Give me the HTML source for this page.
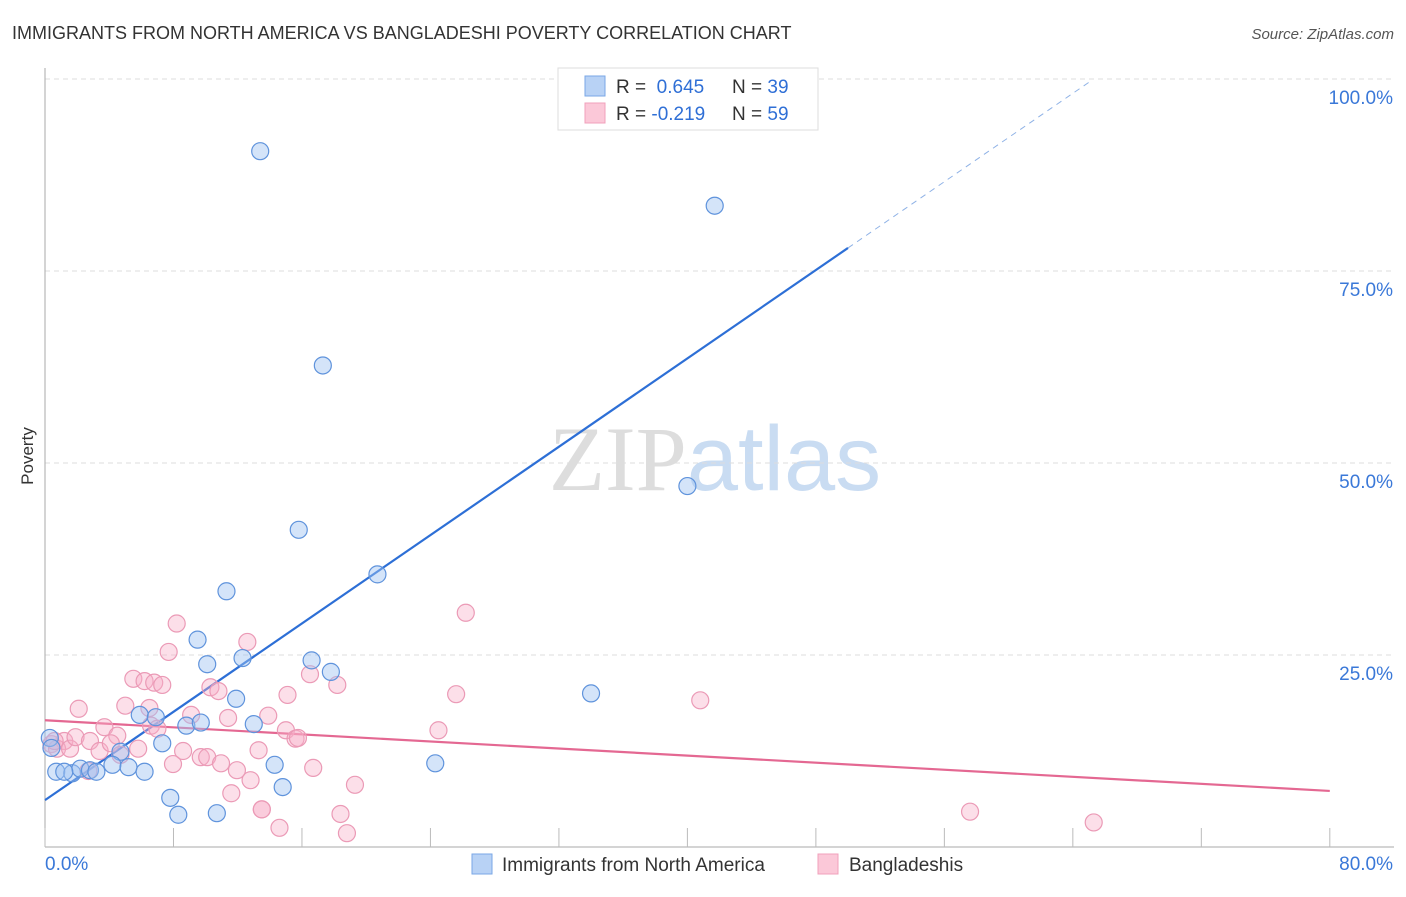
<!DOCTYPE html>
<html><head><meta charset="utf-8"><style>
body{margin:0;background:#fff;font-family:"Liberation Sans",sans-serif;}
svg text{font-family:"Liberation Sans",sans-serif;}
</style></head><body>
<svg id="chart" width="1406" height="892" xmlns="http://www.w3.org/2000/svg">
<text x="12" y="39" font-size="18" fill="#333">IMMIGRANTS FROM NORTH AMERICA VS BANGLADESHI POVERTY CORRELATION CHART</text>
<text x="1394" y="39" font-size="15" fill="#555" text-anchor="end" font-style="italic">Source: ZipAtlas.com</text>
<text transform="translate(33,456) rotate(-90)" font-size="17" fill="#333" text-anchor="middle">Poverty</text>
<text x="715" y="490" font-size="92" text-anchor="middle"><tspan fill="#ddd" font-family="Liberation Serif">ZIP</tspan><tspan fill="#c9dcf2">atlas</tspan></text>
<g id="grid"></g><g id="lines"></g><g id="dots"></g>
<g>
<rect x="558" y="68" width="260" height="62" fill="#fff" stroke="#ddd"/>
<rect x="585" y="76" width="20" height="20" fill="#b8d2f5" stroke="#7aa7e6"/>
<rect x="585" y="103" width="20" height="20" fill="#fbc8d8" stroke="#f0a0bb"/>
<text x="616" y="93" font-size="19" fill="#333">R = <tspan fill="#2f6fd6">&#160;0.645</tspan><tspan x="732">N = </tspan><tspan fill="#2f6fd6">39</tspan></text>
<text x="616" y="120" font-size="19" fill="#333">R = <tspan fill="#2f6fd6">-0.219</tspan><tspan x="732">N = </tspan><tspan fill="#2f6fd6">59</tspan></text>
</g>
<g>
<rect x="472" y="854" width="20" height="20" fill="#b8d2f5" stroke="#7aa7e6"/>
<text x="502" y="871" font-size="19" fill="#333">Immigrants from North America</text>
<rect x="818" y="854" width="20" height="20" fill="#fbc8d8" stroke="#f0a0bb"/>
<text x="849" y="871" font-size="19" fill="#333">Bangladeshis</text>
</g>
</svg>
<script>
const yTicks=[25,50,75,100];
const yTickLabels=["25.0%","50.0%","75.0%","100.0%"];
const xTicks=[0,8,16,24,32,40,48,56,64,72,80];
const blueX=[13.4,41.7,33.3,17.3,40.0,15.8,20.7,11.3,9.5,10.1,12.3,16.6,17.8,11.9,34.0,5.9,6.9,8.8,9.7,13.0,7.3,4.7,0.3,14.3,24.3,0.7,1.7,2.2,2.8,3.2,4.2,5.2,6.2,7.8,8.3,10.7,14.8,0.4,1.2];
const blueY=[90.6,83.5,100,62.7,47.0,41.3,35.5,33.3,27.0,23.8,24.6,24.3,22.8,19.3,20.0,17.2,16.9,15.8,16.2,16.0,13.5,12.4,14.2,10.7,10.9,9.8,9.6,10.2,10.0,9.8,10.7,10.4,9.8,6.4,4.2,4.4,7.8,12.9,9.8];
const pinkX=[8.2,7.7,12.6,26.2,5.5,6.2,6.8,7.3,10.3,10.8,15.1,25.6,40.8,2.1,5.0,6.5,9.1,11.4,16.5,18.2,3.7,4.5,5.8,6.6,7.0,8.6,9.7,10.1,10.96,11.95,12.8,13.9,13.3,15.0,15.6,15.75,24.5,1.2,0.4,0.75,1.56,1.9,2.8,3.4,4.1,4.7,0.6,7.97,11.6,13.5,14.6,16.7,18.4,18.8,19.3,57.6,65.3,2.7,13.5];
const pinkY=[29.1,25.4,26.7,30.5,21.9,21.6,21.4,21.1,20.8,20.3,19.8,19.9,19.1,18.0,18.4,18.1,17.2,16.8,22.5,21.1,15.6,14.5,12.8,15.8,15.4,12.5,11.7,11.7,10.9,10.0,8.7,17.1,12.6,15.2,14.1,14.2,15.2,13.8,13.4,12.8,12.8,14.3,13.8,12.5,13.5,12.0,13.8,10.8,7.0,4.9,2.5,10.3,4.3,1.8,8.1,4.6,3.2,9.9,4.9];
const blueTrend=[6.1,1.438];
const pinkTrend=[16.5,-0.115];
const X=v=>45+v*16.06, Y=v=>847-v*7.68;
const NS="http://www.w3.org/2000/svg";
function mk(tag,attrs,parent){const e=document.createElementNS(NS,tag);for(const k in attrs)e.setAttribute(k,attrs[k]);document.getElementById(parent).appendChild(e);return e;}
yTicks.forEach((t,i)=>{
 const g=mk('line',{x1:45,x2:1394,y1:Y(t),y2:Y(t),stroke:'#ddd','stroke-dasharray':'5,4'},'grid');
 
 
 const l=mk('text',{x:1393,y:Y(t)+25,'font-size':19,fill:'#3a78d8','text-anchor':'end'},'grid');
 
 
 l.textContent=yTickLabels[i];
});
const ax=mk('line',{x1:45,x2:45,y1:68,y2:847,stroke:'#aaa'},'grid');


const bx=mk('line',{x1:45,x2:1394,y1:847,y2:847,stroke:'#aaa'},'grid');


xTicks.forEach(t=>{const e=mk('line',{x1:X(t),x2:X(t),y1:828,y2:847,stroke:'#bbb'},'grid');
 
 });
const x0=mk('text',{x:45,y:870,'font-size':19,fill:'#3a78d8'},'grid');x0.textContent='0.0%';


const x1=mk('text',{x:1393,y:870,'font-size':19,fill:'#3a78d8','text-anchor':'end'},'grid');x1.textContent='80.0%';


function addDot(x,y,r,fill,stroke,name){const c=mk('circle',{cx:X(x),cy:Y(y),r:r,fill:fill,stroke:stroke,'stroke-width':1.2},'dots');
 
 }
pinkX.forEach((x,i)=>addDot(x,pinkY[i],8.5,'rgba(248,175,200,0.4)','#eb9ab6','bangladeshi-point'));
blueX.forEach((x,i)=>addDot(x,blueY[i],8.5,'rgba(160,196,242,0.45)','#5f93dc','north-america-point'));
const bl=mk('line',{x1:X(0),y1:Y(blueTrend[0]),x2:X(50),y2:Y(blueTrend[0]+blueTrend[1]*50),stroke:'#2d6fd6','stroke-width':2.2},'lines');


const bd=mk('line',{x1:X(50),y1:Y(blueTrend[0]+blueTrend[1]*50),x2:X(65),y2:Y(blueTrend[0]+blueTrend[1]*65),stroke:'#8fb2e6','stroke-width':1,'stroke-dasharray':'6,5'},'lines');


const pl=mk('line',{x1:X(0),y1:Y(pinkTrend[0]),x2:X(80),y2:Y(pinkTrend[0]+pinkTrend[1]*80),stroke:'#e46892','stroke-width':2.2},'lines');


</script>
</body></html>
